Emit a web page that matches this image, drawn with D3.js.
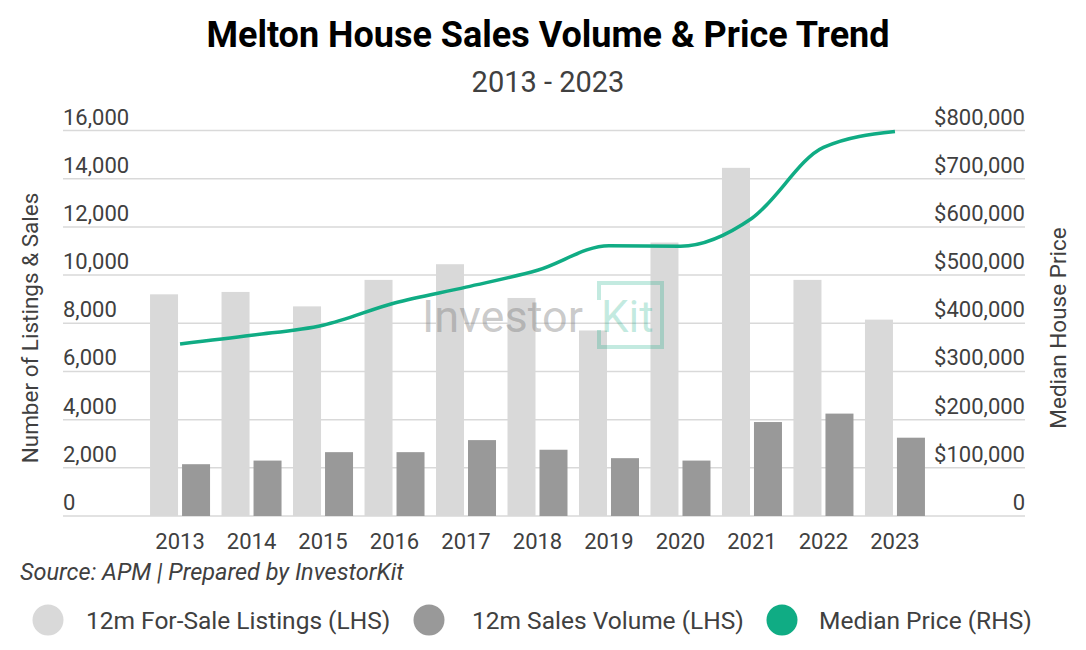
<!DOCTYPE html>
<html>
<head>
<meta charset="utf-8">
<script src="https://cdn.jsdelivr.net/npm/d3@7"></script>
<style>
  html, body { margin: 0; padding: 0; background: #fff; }
  svg { display: block; font-family: Roboto, "Noto Sans", sans-serif; }
</style>
</head>
<body>
<svg id="chart" width="1086" height="650"></svg>
<script>
/* Melton house sales volume & median price, 2013-2023 */

const years    = ['2013','2014','2015','2016','2017','2018','2019','2020','2021','2022','2023'];
const listings = [9200, 9300, 8700, 9800, 10450, 9050, 7700, 11350, 14450, 9800, 8150];
const sales    = [2150, 2300, 2650, 2650, 3150, 2750, 2400, 2300, 3900, 4250, 3250];
const price    = [357000, 375000, 396000, 442000, 475000, 510000, 561000, 560000, 618000, 765000, 798000];

const leftTicks  = [0, 2000, 4000, 6000, 8000, 10000, 12000, 14000, 16000];
const rightTicks = [0, 100000, 200000, 300000, 400000, 500000, 600000, 700000, 800000];

const legendItems = [
  { label: '12m For-Sale Listings (LHS)', color: '#d9d9d9' },
  { label: '12m Sales Volume (LHS)',      color: '#999999' },
  { label: 'Median Price (RHS)',          color: '#10ac84' }
];

const C_LIST = '#d9d9d9', C_SALE = '#999999', C_LINE = '#10ac84', C_TEXT = '#404040';

const svg = d3.select('#chart');

// ── plot frame ──
const gridL = 63, gridR = 1025, plotTop = 130.5, plotBottom = 516;

const yL = d3.scaleLinear().domain([0, 16000]).range([plotBottom, plotTop]);
const yR = d3.scaleLinear().domain([0, 800000]).range([plotBottom, plotTop]);

const x = d3.scaleBand().domain(years).range([144.3, 930.7]).paddingInner(0).paddingOuter(0);
const bw = x.bandwidth();
const x1 = d3.scaleBand().domain(['listings', 'sales'])
  .range([bw / 2 - 30, bw / 2 + 30]).paddingInner(0.125);

// ── titles ──
svg.append('text').attr('x', 548).attr('y', 47).attr('text-anchor', 'middle')
  .attr('font-size', 36).attr('font-weight', 700).attr('fill', '#000')
  .text('Melton House Sales Volume & Price Trend');

svg.append('text').attr('x', 548).attr('y', 92).attr('text-anchor', 'middle')
  .attr('font-size', 29).attr('fill', C_TEXT)
  .text('2013 - 2023');

// ── gridlines ──
svg.append('g').selectAll('line').data(leftTicks).join('line')
  .attr('x1', gridL).attr('x2', gridR)
  .attr('y1', d => yL(d)).attr('y2', d => yL(d))
  .attr('stroke', '#d9d9d9').attr('stroke-width', 1.5);

// ── left ticks (above gridlines, left aligned) ──
svg.append('g').selectAll('text').data(leftTicks).join('text')
  .attr('x', gridL).attr('y', d => yL(d) - 6)
  .attr('font-size', 22).attr('fill', C_TEXT)
  .text(d => d3.format(',')(d));

// ── right ticks ──
svg.append('g').selectAll('text').data(rightTicks).join('text')
  .attr('x', gridR).attr('y', d => yR(d) - 6).attr('text-anchor', 'end')
  .attr('font-size', 22).attr('fill', C_TEXT)
  .text(d => d === 0 ? '0' : '$' + d3.format(',')(d));

// ── axis titles ──
svg.append('text').attr('transform', 'translate(38,328) rotate(-90)')
  .attr('text-anchor', 'middle').attr('font-size', 22.5).attr('fill', C_TEXT)
  .text('Number of Listings & Sales');

svg.append('text').attr('transform', 'translate(1066,328) rotate(-90)')
  .attr('text-anchor', 'middle').attr('font-size', 22.5).attr('fill', C_TEXT)
  .text('Median House Price');

// ── bars ──
const groups = svg.append('g').selectAll('g').data(years).join('g')
  .attr('transform', d => `translate(${x(d)},0)`);

groups.append('rect')
  .attr('x', x1('listings')).attr('width', x1.bandwidth())
  .attr('y', (d, i) => yL(listings[i])).attr('height', (d, i) => plotBottom - yL(listings[i]))
  .attr('fill', C_LIST);

groups.append('rect')
  .attr('x', x1('sales')).attr('width', x1.bandwidth())
  .attr('y', (d, i) => yL(sales[i])).attr('height', (d, i) => plotBottom - yL(sales[i]))
  .attr('fill', C_SALE);

// ── x labels ──
svg.append('g').selectAll('text').data(years).join('text')
  .attr('x', d => x(d) + bw / 2).attr('y', 549).attr('text-anchor', 'middle')
  .attr('font-size', 22).attr('fill', C_TEXT)
  .text(d => d);

// ── watermark ──
const wm = svg.append('g').attr('pointer-events', 'none');
wm.append('text').attr('x', 422).attr('y', 332)
  .attr('font-size', 45).attr('fill', '#808080').attr('fill-opacity', 0.42)
  .text('Investor');
wm.append('path')
  .attr('d', 'M599,300 L599,283 L662,283 L662,347 L599,347 L599,330')
  .attr('fill', 'none').attr('stroke', C_LINE).attr('stroke-opacity', 0.25).attr('stroke-width', 4);
wm.append('text').attr('x', 601).attr('y', 332)
  .attr('font-size', 44).attr('fill', C_LINE).attr('fill-opacity', 0.25)
  .text('Kit');

// ── price line ──
const line = d3.line()
  .x((d, i) => x(years[i]) + bw / 2)
  .y(d => yR(d))
  .curve(d3.curveMonotoneX);

svg.append('path').datum(price)
  .attr('d', line)
  .attr('fill', 'none').attr('stroke', C_LINE).attr('stroke-width', 3.5);

// ── source ──
svg.append('text').attr('x', 20).attr('y', 580)
  .attr('font-size', 23.5).attr('font-style', 'italic').attr('fill', C_TEXT)
  .text('Source: APM | Prepared by InvestorKit');

// ── legend ──
const legendX = [48, 429, 782];
const legendTextX = [86, 472, 819];
const lg = svg.append('g').selectAll('g').data(legendItems).join('g')
  .attr('transform', (d, i) => `translate(${legendX[i]},620)`);
lg.append('circle').attr('r', 15.5).attr('fill', d => d.color);
lg.append('text').attr('x', (d, i) => legendTextX[i] - legendX[i]).attr('y', 8.5)
  .attr('font-size', 24.5).attr('fill', C_TEXT)
  .text(d => d.label);
</script>
</body>
</html>
